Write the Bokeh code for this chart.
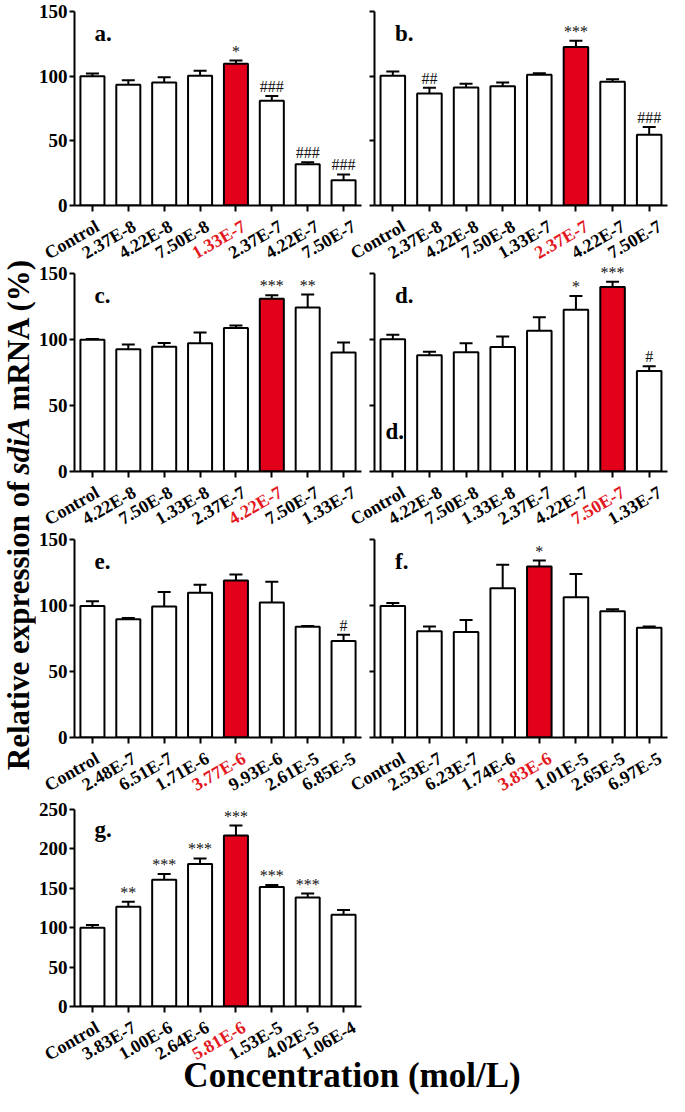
from bokeh.plotting import figure
from bokeh.models import (Range1d, FixedTicker, ColumnDataSource, LabelSet, Label,
                          LinearAxis, Whisker, TeeHead, Title)
from bokeh.layouts import row, column
from bokeh.embed import file_html
from bokeh.resources import INLINE
from bokeh.core.properties import value

# ---------------- data ----------------
labels_a = ["Control", "2.37E-8", "4.22E-8", "7.50E-8", "1.33E-7", "2.37E-7", "4.22E-7", "7.50E-7"]
vals_a = [100.0, 93.3, 95.1, 100.3, 109.6, 80.9, 31.9, 19.5]
err_a = [2.0, 3.5, 4.0, 3.8, 2.5, 3.7, 1.5, 4.5]
sig_a = ["", "", "", "", "*", "###", "###", "###"]
hi_a = 4

labels_b = ["Control", "2.37E-8", "4.22E-8", "7.50E-8", "1.33E-7", "2.37E-7", "4.22E-7", "7.50E-7"]
vals_b = [100.3, 86.6, 91.3, 92.3, 101.1, 122.5, 95.6, 54.7]
err_b = [3.3, 4.5, 2.8, 2.8, 1.2, 4.8, 2.0, 6.0]
sig_b = ["", "##", "", "", "", "***", "", "###"]
hi_b = 5

labels_c = ["Control", "4.22E-8", "7.50E-8", "1.33E-8", "2.37E-7", "4.22E-7", "7.50E-7", "1.33E-7"]
vals_c = [99.8, 92.6, 94.6, 97.1, 108.8, 130.8, 124.3, 90.1]
err_c = [0.5, 3.7, 2.7, 8.2, 1.8, 2.7, 9.7, 7.7]
sig_c = ["", "", "", "", "", "***", "**", ""]
hi_c = 5

labels_d = ["Control", "4.22E-8", "7.50E-8", "1.33E-8", "2.37E-7", "4.22E-7", "7.50E-7", "1.33E-7"]
vals_d = [100.1, 88.1, 90.3, 94.3, 106.6, 122.5, 139.8, 76.1]
err_d = [3.5, 2.7, 6.8, 8.0, 10.2, 10.5, 4.0, 3.7]
sig_d = ["", "", "", "", "", "*", "***", "#"]
hi_d = 6

labels_e = ["Control", "2.48E-7", "6.51E-7", "1.71E-6", "3.77E-6", "9.93E-6", "2.61E-5", "6.85E-5"]
vals_e = [99.6, 89.6, 99.3, 109.6, 119.0, 102.3, 83.9, 73.1]
err_e = [3.7, 1.0, 11.0, 6.2, 4.5, 15.7, 0.5, 4.7]
sig_e = ["", "", "", "", "", "", "", "#"]
hi_e = 4

labels_f = ["Control", "2.53E-7", "6.23E-7", "1.74E-6", "3.83E-6", "1.01E-5", "2.65E-5", "6.97E-5"]
vals_f = [99.6, 80.4, 79.9, 113.1, 129.5, 106.3, 95.6, 83.1]
err_f = [2.2, 3.7, 9.2, 17.7, 4.5, 17.5, 1.5, 1.0]
sig_f = ["", "", "", "", "*", "", "", ""]
hi_f = 4

labels_g = ["Control", "3.83E-7", "1.00E-6", "2.64E-6", "5.81E-6", "1.53E-5", "4.02E-5", "1.06E-4"]
vals_g = [100.0, 126.7, 160.8, 180.8, 217.1, 151.7, 138.3, 116.3]
err_g = [3.3, 6.2, 7.5, 7.1, 12.5, 2.5, 5.0, 6.2]
sig_g = ["", "**", "***", "***", "***", "***", "***", ""]
hi_g = 4

yticks_150 = [0, 50, 100, 150]
yticks_250 = [0, 50, 100, 150, 200, 250]

ylabel_parts = ["Relative expression of", "sdiA", "mRNA (%)"]
xlabel_text = "Concentration (mol/L)"

# ---------------- layout geometry (reference pixels, scaled to page) ----------------
SX = 669 / 685
SY = 1096 / 1112


def X(v):
    return int(round(v * SX))


def Y(v):
    return int(round(v * SY))


SERIF = "Liberation Serif"
RED_FILL = "#E2001A"
RED_TEXT = "#E3191F"
LEFT_W = 36
COL_X = [36, 376, 685]
FRAME_X = [(70, 370), (383, 683)]
# row_top, axis_top, axis_bottom, frame_fig_bottom, band_bottom
ROWS = [(0, 11, 208, 219, 266), (266, 277, 478, 489, 536),
        (536, 547, 748, 759, 806), (806, 821, 1021, 1032, 1112)]
# vertical split of the left title column: [top part | sdiA | bottom part]
LEFT_SPLIT = [0, 416, 488, 1112]

PANELS = [
    dict(letter="a.", labels=labels_a, vals=vals_a, errs=err_a, sig=sig_a, hi=hi_a, yticks=yticks_150, col=0, row=0, ly=133),
    dict(letter="b.", labels=labels_b, vals=vals_b, errs=err_b, sig=sig_b, hi=hi_b, yticks=yticks_150, col=1, row=0, ly=133),
    dict(letter="c.", labels=labels_c, vals=vals_c, errs=err_c, sig=sig_c, hi=hi_c, yticks=yticks_150, col=0, row=1, ly=133),
    dict(letter="d.", labels=labels_d, vals=vals_d, errs=err_d, sig=sig_d, hi=hi_d, yticks=yticks_150, col=1, row=1, ly=133),
    dict(letter="e.", labels=labels_e, vals=vals_e, errs=err_e, sig=sig_e, hi=hi_e, yticks=yticks_150, col=0, row=2, ly=133),
    dict(letter="f.", labels=labels_f, vals=vals_f, errs=err_f, sig=sig_f, hi=hi_f, yticks=yticks_150, col=1, row=2, ly=133),
    dict(letter="g.", labels=labels_g, vals=vals_g, errs=err_g, sig=sig_g, hi=hi_g, yticks=yticks_250, col=0, row=3, ly=224),
]


def base_fig(**kw):
    f = figure(title=None, x_axis_type=None, y_axis_type=None, sizing_mode="fixed",
               output_backend="svg", toolbar_location=None, **kw)
    f.frame_align = False
    f.outline_line_color = None
    f.background_fill_color = "white"
    f.border_fill_color = "white"
    return f


def make_source(d):
    n = len(d["labels"])
    idx = list(range(n))
    etop = [v + e for v, e in zip(d["vals"], d["errs"])]
    fill = [RED_FILL if i == d["hi"] else "white" for i in idx]
    lcol = [RED_TEXT if i == d["hi"] else "black" for i in idx]
    return ColumnDataSource(dict(x=idx, top=d["vals"], etop=etop, fill=fill,
                                 sig=d["sig"], lab=d["labels"], lcol=lcol))


def make_panel(d, src):
    rt, at, ab, rb, bb = ROWS[d["row"]]
    c = d["col"]
    cx0, cx1 = COL_X[c], COL_X[c + 1]
    fx0, fx1 = FRAME_X[c]
    n = len(d["labels"])
    ymax = d["yticks"][-1]
    # frame reaches to the top of the canvas so that marks above the axis stay visible
    ytop = ymax * (Y(ab) - Y(rt)) / (Y(ab) - Y(at))
    p = base_fig(width=X(cx1) - X(cx0), height=Y(rb) - Y(rt),
                 min_border_left=X(fx0) - X(cx0), min_border_right=X(cx1) - X(fx1),
                 min_border_top=0, min_border_bottom=Y(rb) - Y(ab),
                 x_range=Range1d(-0.5, n - 0.5), y_range=Range1d(0, ytop))

    xa = LinearAxis(ticker=FixedTicker(ticks=list(range(n))),
                    major_label_overrides={i: "" for i in range(n)},
                    major_label_text_font_size="0px", major_label_standoff=0,
                    major_tick_out=6, major_tick_in=0,
                    axis_line_width=2, major_tick_line_width=2,
                    axis_line_color="black", major_tick_line_color="black",
                    minor_tick_line_color=None)
    p.add_layout(xa, "below")

    ya = LinearAxis(ticker=FixedTicker(ticks=d["yticks"]), bounds=(0, ymax),
                    major_tick_out=5, major_tick_in=0,
                    axis_line_width=2, major_tick_line_width=2,
                    axis_line_color="black", major_tick_line_color="black",
                    minor_tick_line_color=None)
    if c == 0:
        ya.major_label_text_font = SERIF
        ya.major_label_text_font_style = "bold"
        ya.major_label_text_font_size = "19px"
        ya.major_label_text_color = "black"
        ya.major_label_standoff = 2
    else:
        ya.major_label_overrides = {t: "" for t in d["yticks"]}
        ya.major_label_text_font_size = "0px"
        ya.major_label_standoff = 0
    p.add_layout(ya, "left")

    p.vbar(x="x", top="top", bottom=0, width=0.67, source=src,
           fill_color="fill", line_color="black", line_width=2)
    p.add_layout(Whisker(base="x", lower="top", upper="etop", source=src,
                         line_color="black", line_width=2,
                         upper_head=TeeHead(size=13, line_color="black", line_width=2),
                         lower_head=None))
    p.add_layout(LabelSet(x="x", y="etop", text="sig", source=src, y_offset=4,
                          text_align="center", text_baseline="alphabetic",
                          text_font=value(SERIF), text_font_size="16px",
                          text_color="#111111"))
    p.add_layout(Label(x=0.06, y=d["ly"], text=d["letter"], text_font=SERIF,
                       text_font_style="bold", text_font_size="23px",
                       text_color="black", text_baseline="alphabetic"))
    return p


def make_band(rowi, items, extra_labels=()):
    rt, at, ab, rb, bb = ROWS[rowi]
    ranges = []
    for d, src in items:
        c = d["col"]
        n = len(d["labels"])
        f0, f1 = X(FRAME_X[c][0]), X(FRAME_X[c][1])
        upp = n / (f1 - f0)
        ranges.append(Range1d(-0.5 + (X(COL_X[0]) - f0) * upp,
                              -0.5 + (X(COL_X[2]) - f0) * upp))
    b = base_fig(width=X(COL_X[2]) - X(COL_X[0]), height=Y(bb) - Y(rb),
                 x_range=ranges[0], y_range=Range1d(bb, rb),
                 min_border_left=0, min_border_right=0, min_border_top=0, min_border_bottom=0)
    extra = {"r": Range1d(COL_X[0], COL_X[2])}
    for k in range(1, len(ranges)):
        extra["p%d" % k] = ranges[k]
    b.extra_x_ranges = extra
    for k, (d, src) in enumerate(items):
        b.add_layout(LabelSet(x="x", y=ab + 19.5, text="lab", source=src,
                              x_range_name=("default" if k == 0 else "p%d" % k),
                              x_offset=11 * SX, angle=30, angle_units="deg",
                              text_align="right", text_baseline="middle",
                              text_color="lcol", text_font=value(SERIF),
                              text_font_style="bold", text_font_size="18px"))
    for lab in extra_labels:
        b.add_layout(lab)
    return b


sources = [make_source(d) for d in PANELS]
figs = [make_panel(d, s) for d, s in zip(PANELS, sources)]

# stray panel letter inside panel d
figs[3].add_layout(Label(x=-0.2, y=21, text="d.", text_font=SERIF, text_font_style="bold",
                         text_font_size="23px", text_color="black"))

bands = [
    make_band(0, [(PANELS[0], sources[0]), (PANELS[1], sources[1])]),
    make_band(1, [(PANELS[2], sources[2]), (PANELS[3], sources[3])]),
    make_band(2, [(PANELS[4], sources[4]), (PANELS[5], sources[5])]),
    make_band(3, [(PANELS[6], sources[6])],
              extra_labels=[Label(x=360, y=1091, x_range_name="r", text=xlabel_text,
                                  text_font=SERIF, text_font_style="bold",
                                  text_font_size="35px", text_align="center",
                                  text_baseline="alphabetic", text_color="black")]),
]

# left column carrying the common y-axis title (vertical titles, one per part)
YL_FS = "31px"
left_parts = [
    (ylabel_parts[2], "bold", "left"),          # top piece, text starts at its bottom
    (ylabel_parts[1], "bold italic", "center"),  # middle piece
    (ylabel_parts[0], "bold", "right"),         # bottom piece, text ends at its top
]
left_figs = []
for k, (txt, style, align) in enumerate(left_parts):
    lf = base_fig(width=X(LEFT_W), height=Y(LEFT_SPLIT[k + 1]) - Y(LEFT_SPLIT[k]),
                  x_range=Range1d(0, 1), y_range=Range1d(0, 1),
                  min_border_left=0, min_border_right=0, min_border_top=0, min_border_bottom=0)
    lf.add_layout(Title(text=txt, align=align, offset=0, standoff=0,
                        text_font=SERIF, text_font_style=style, text_font_size=YL_FS,
                        text_color="black"), "left")
    left_figs.append(lf)
left = column(*left_figs)

right = column(row(figs[0], figs[1]), bands[0],
               row(figs[2], figs[3]), bands[1],
               row(figs[4], figs[5]), bands[2],
               figs[6], bands[3])
page = row(left, right)

open("out.html", "w").write(file_html(page, INLINE))
